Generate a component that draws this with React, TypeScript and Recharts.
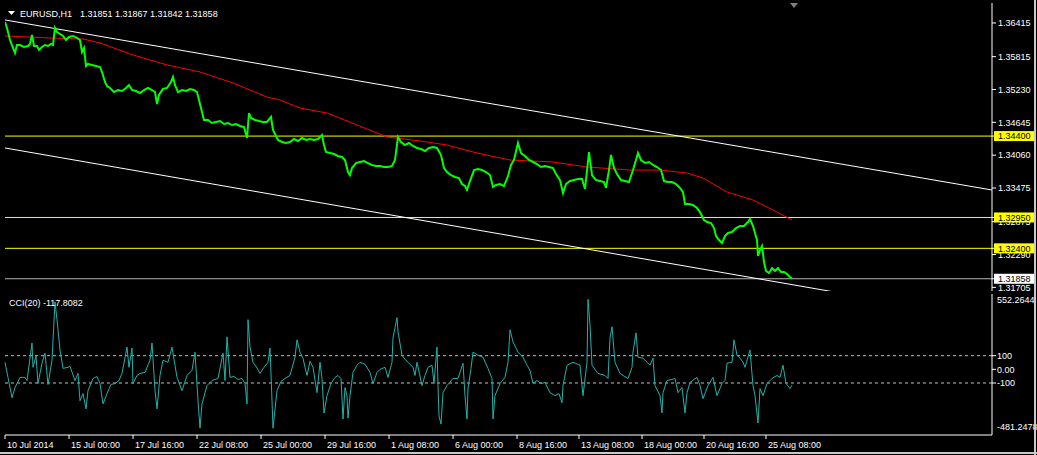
import React from "react";
import { ComposedChart, Line, XAxis, YAxis, ReferenceLine } from "recharts";

// EURUSD H1 terminal screenshot: price panel (close, MA, channel, levels) + CCI(20) panel.
// x is the H1 bar index, one pixel per bar.

const FONT = "'Liberation Sans', Arial, sans-serif";
const BARS = 987;

const eurusdClose: [number, number][] = [
  [0, 1.36433], [2, 1.36326], [5, 1.36112], [8, 1.3597], [10, 1.3588], [12, 1.36023], [15, 1.36023],
  [19, 1.35987], [23, 1.36005], [25, 1.36041], [27, 1.36201], [29, 1.36005], [32, 1.36005], [34, 1.35935],
  [37, 1.35987], [40, 1.36023], [43, 1.36005], [46, 1.36041], [48, 1.36023], [50, 1.36326], [52, 1.36255],
  [55, 1.36219], [58, 1.36184], [61, 1.36112], [64, 1.36166], [68, 1.36184], [72, 1.36148], [75, 1.36112],
  [77, 1.35898], [79, 1.3597], [81, 1.35649], [83, 1.35685], [87, 1.35667], [91, 1.35649], [95, 1.35631],
  [97, 1.35542], [100, 1.35364], [102, 1.35292], [105, 1.35257], [109, 1.35185], [113, 1.35221], [117, 1.35203],
  [121, 1.35257], [124, 1.3531], [127, 1.35221], [131, 1.35203], [135, 1.35168], [139, 1.35221], [143, 1.35257],
  [147, 1.35221], [150, 1.35185], [152, 1.34972], [154, 1.35132], [158, 1.35239], [162, 1.35257], [166, 1.35364],
  [168, 1.35453], [170, 1.3531], [173, 1.35185], [177, 1.35221], [181, 1.35203], [185, 1.35239], [189, 1.35221],
  [192, 1.35185], [194, 1.35043], [196, 1.349], [199, 1.34687], [203, 1.34687], [207, 1.34633], [211, 1.34651],
  [215, 1.34669], [219, 1.34615], [223, 1.34633], [227, 1.34597], [231, 1.34615], [235, 1.3458], [239, 1.34562],
  [242, 1.34366], [244, 1.34811], [246, 1.34722], [250, 1.34687], [254, 1.34669], [258, 1.34651], [262, 1.34651],
  [266, 1.3474], [268, 1.34509], [270, 1.34437], [273, 1.3433], [277, 1.34295], [281, 1.34277], [285, 1.34295],
  [289, 1.34348], [293, 1.34313], [297, 1.34366], [301, 1.3433], [305, 1.34348], [309, 1.3433], [313, 1.34348],
  [317, 1.34419], [319, 1.34241], [321, 1.34116], [325, 1.34098], [329, 1.34081], [333, 1.34045], [337, 1.34027],
  [340, 1.33974], [343, 1.3376], [345, 1.33706], [347, 1.33831], [351, 1.3392], [355, 1.33938], [359, 1.33956],
  [363, 1.3392], [367, 1.33885], [371, 1.33867], [375, 1.33867], [379, 1.33849], [383, 1.33849], [387, 1.33867],
  [390, 1.33974], [393, 1.34384], [396, 1.34295], [400, 1.34241], [404, 1.34277], [408, 1.34223], [412, 1.34188],
  [416, 1.3417], [420, 1.34134], [424, 1.34188], [428, 1.34205], [432, 1.34188], [436, 1.34063], [439, 1.33831],
  [442, 1.3376], [446, 1.33706], [450, 1.33671], [454, 1.33653], [457, 1.33546], [460, 1.3351], [462, 1.33439],
  [465, 1.33599], [469, 1.33795], [473, 1.33813], [477, 1.33795], [481, 1.3376], [485, 1.33706], [488, 1.33493],
  [491, 1.33528], [495, 1.33546], [499, 1.3351], [503, 1.33688], [506, 1.33885], [509, 1.33974], [513, 1.34277],
  [516, 1.34098], [520, 1.34045], [524, 1.33974], [528, 1.33938], [532, 1.33902], [536, 1.33849], [540, 1.33867],
  [544, 1.33849], [548, 1.33831], [551, 1.33724], [555, 1.33617], [558, 1.33386], [561, 1.33546], [565, 1.33599],
  [569, 1.33617], [573, 1.33635], [577, 1.33635], [580, 1.33457], [584, 1.34116], [587, 1.33706], [591, 1.33617],
  [595, 1.33599], [599, 1.33582], [601, 1.33475], [604, 1.33795], [606, 1.34063], [609, 1.33831], [612, 1.33724],
  [616, 1.33617], [620, 1.33599], [624, 1.33582], [628, 1.33795], [631, 1.33974], [633, 1.34098], [636, 1.33974],
  [640, 1.3392], [644, 1.33938], [648, 1.33885], [652, 1.33849], [656, 1.33795], [659, 1.33599], [663, 1.33582],
  [667, 1.33582], [671, 1.33546], [675, 1.33475], [678, 1.33403], [680, 1.3319], [684, 1.3319], [688, 1.33172],
  [692, 1.33118], [695, 1.33047], [699, 1.32905], [702, 1.32869], [706, 1.32851], [709, 1.32762], [711, 1.32619],
  [714, 1.32548], [717, 1.32495], [720, 1.32619], [723, 1.32673], [727, 1.32691], [731, 1.32762], [735, 1.32798],
  [739, 1.32798], [743, 1.32869], [745, 1.32922], [748, 1.32798], [750, 1.32673], [752, 1.32548], [753, 1.32263],
  [755, 1.3237], [757, 1.32441], [759, 1.32156], [761, 1.31996], [764, 1.3196], [767, 1.32049], [770, 1.31996],
  [773, 1.32049], [776, 1.31978], [779, 1.31978], [782, 1.31942], [785, 1.31889], [787, 1.31858],
];

const movingAverage: [number, number][] = [
  [0, 1.36184], [45, 1.36148], [78, 1.3613], [95, 1.36059], [128, 1.35845], [162, 1.35667], [195, 1.35542],
  [228, 1.35346], [262, 1.35096], [275, 1.35043], [295, 1.349], [322, 1.34811], [382, 1.34384], [415, 1.34313],
  [442, 1.34241], [472, 1.34098], [505, 1.33974], [548, 1.33938], [582, 1.33849], [625, 1.33795], [655, 1.33795],
  [682, 1.33742], [698, 1.33653], [722, 1.33403], [748, 1.33261], [768, 1.33083], [787, 1.32905],
];

const channelUpper: [number, number][] = [[0, 1.36469], [987, 1.33439]];
const channelLower: [number, number][] = [[0, 1.34188], [987, 1.31135]];

const levelPrices = [1.344, 1.3295, 1.324];
const lastPrice = 1.31858;
const priceTicks = [1.36415, 1.35815, 1.3523, 1.34645, 1.3406, 1.33475, 1.32875, 1.3229, 1.31705];

const cci20: [number, number][] = [
  [0, 52], [3, -59], [7, -208], [10, -134], [15, -59], [20, -59], [22, -82], [27, 193], [28, 15], [31, 97],
  [33, -104], [37, 45], [40, 119], [43, -111], [47, 67], [50, 495], [52, 364], [55, 141], [58, 7], [63, 15],
  [65, 22], [70, -82], [73, -30], [75, -230], [78, -178], [81, -290], [83, -156], [88, -67], [92, -52], [95, -104],
  [98, -253], [102, -178], [106, -111], [110, -104], [114, -82], [117, -30], [122, 163], [124, 15], [127, 156],
  [128, -104], [132, -45], [135, -30], [140, -22], [145, 67], [147, 193], [150, -156], [152, -290], [155, -45],
  [158, 67], [163, 52], [167, 163], [170, 30], [172, -59], [177, -156], [182, -45], [187, -7], [190, 126],
  [193, -230], [195, -431], [197, -253], [202, -119], [207, -82], [213, -67], [218, 119], [220, -82], [222, 238],
  [225, -59], [229, -52], [233, -74], [237, -67], [240, -104], [242, -253], [243, 364], [245, 163], [248, 52],
  [251, 22], [255, -30], [259, 15], [263, 52], [265, 156], [267, -230], [268, -431], [272, -156], [276, -89],
  [280, -67], [285, -45], [290, 89], [292, 216], [295, 126], [298, 82], [300, 15], [302, -45], [305, 59],
  [308, 15], [312, -171], [315, 52], [317, -67], [319, -320], [322, -193], [326, -104], [330, -59], [333, -45],
  [336, -67], [338, -364], [340, -134], [342, -193], [343, -357], [345, -193], [348, -22], [352, 30], [355, 52],
  [360, 37], [365, -22], [368, -104], [372, -22], [375, 0], [380, 15], [383, -59], [387, 52], [388, 230],
  [390, 305], [392, 379], [393, 275], [397, 104], [400, 74], [403, 52], [408, 15], [410, -45], [412, 52],
  [417, -119], [420, -45], [423, 15], [427, 30], [429, -104], [432, 163], [433, -119], [434, -342], [436, -401],
  [438, -171], [442, -119], [448, -67], [453, -67], [458, 45], [460, -193], [462, -364], [463, -141], [466, 7],
  [468, 126], [473, 104], [478, 89], [483, 7], [487, -67], [488, -364], [490, -193], [495, -104], [500, -59],
  [503, 52], [505, 290], [508, 201], [513, 126], [518, 89], [522, 30], [525, -7], [528, -104], [532, -82],
  [536, -104], [540, -97], [545, -171], [550, -193], [554, -178], [557, -245], [558, -119], [562, 30], [568, 52],
  [575, 30], [578, -193], [582, 52], [583, 513], [585, 327], [587, 30], [593, -30], [600, -45], [603, -67],
  [605, 230], [607, 312], [610, 52], [615, -30], [618, -45], [623, -67], [627, 15], [628, 126], [631, 267],
  [633, 89], [638, 82], [642, 52], [645, 30], [648, 82], [650, -119], [655, -193], [657, -320], [658, -171],
  [662, -82], [667, -74], [670, -67], [673, -171], [677, -134], [680, -320], [682, -171], [685, -97], [689, -74],
  [692, -59], [695, -119], [698, -215], [703, -119], [708, -59], [712, -193], [717, -104], [720, -82], [722, 45],
  [727, 52], [729, 216], [732, 104], [735, 82], [738, 52], [740, 15], [745, 141], [748, -119], [750, -193],
  [753, -394], [755, -141], [758, -193], [762, -104], [767, -67], [772, -45], [775, -59], [778, 30], [781, -104],
  [785, -141], [787, -117.8082],
];

const cciMax = 552.2644;
const cciMin = -481.2478;
const cciTicks = [cciMax, 100, 0, -100, cciMin];

const timeTicks = [0, 64, 128, 192, 256, 320, 384, 448, 512, 574, 637, 699, 761];
const timeLabels = [
  "10 Jul 2014", "15 Jul 00:00", "17 Jul 16:00", "22 Jul 08:00", "25 Jul 00:00", "29 Jul 16:00", "1 Aug 08:00",
  "6 Aug 00:00", "8 Aug 16:00", "13 Aug 08:00", "18 Aug 00:00", "20 Aug 16:00", "25 Aug 08:00",
];

const toRows = (pts: [number, number][]) => pts.map(([bar, v]) => ({ bar, v }));

const txt = { fill: "#fff", fontSize: 9, fontFamily: FONT };

function PriceTick(props: any) {
  const { x, y, payload } = props;
  const v: number = payload.value;
  const bg = levelPrices.includes(v) ? "#ffff00" : v === lastPrice ? "#ffffff" : null;
  return (
    <g>
      {bg && <rect x={x - 4} y={y - 5} width={41} height={10} fill={bg} />}
      <text x={x} y={y} dy={3.3} {...txt} fill={bg ? "#000" : "#fff"}>
        {v.toFixed(5)}
      </text>
    </g>
  );
}

function CciTick(props: any) {
  const { x, y, payload } = props;
  const v: number = payload.value;
  const shift = v === cciMax ? 6 : v === cciMin ? -8 : 0;
  const label = shift ? v.toFixed(4) : v === 0 ? "0.00" : String(v);
  return (
    <g>
      {!shift && <line x1={x - 6} x2={x - 2} y1={y} y2={y} stroke="#fff" />}
      <text x={x - 1} y={y + shift} dy={3.3} {...txt}>
        {label}
      </text>
    </g>
  );
}

function TimeTick(props: any) {
  const { x, y, payload } = props;
  const i = timeTicks.indexOf(payload.value);
  return (
    <g>
      <line x1={x} x2={x} y1={y} y2={y + 4} stroke="#fff" />
      <text x={x + 2} y={y + 13} {...txt}>
        {timeLabels[i]}
      </text>
    </g>
  );
}

const frame = { stroke: "#fff" };

export default function App() {
  return (
    <div style={{ position: "absolute", left: 0, top: 0, width: 1037, height: 455, background: "#000", overflow: "hidden" }}>
      <div style={{ position: "absolute", left: 0, top: 0 }}>
        <ComposedChart width={1037} height={292} margin={{ top: 3, right: 0, bottom: 1, left: 5 }}>
          <XAxis xAxisId="b" type="number" dataKey="bar" domain={[0, BARS]} allowDataOverflow height={0} tick={false} tickLine={false} axisLine={frame} />
          <XAxis xAxisId="t" orientation="top" type="number" domain={[0, BARS]} height={0} tick={false} tickLine={false} axisLine={frame} />
          <YAxis yAxisId="l" orientation="left" type="number" domain={[0, 1]} width={0} tick={false} tickLine={false} axisLine={frame} />
          <YAxis
            yAxisId="p"
            orientation="right"
            type="number"
            domain={[1.3164, 1.36771]}
            allowDataOverflow
            width={45}
            ticks={[...priceTicks, ...levelPrices, lastPrice]}
            interval={0}
            tick={<PriceTick />}
            tickSize={4}
            tickMargin={2}
            tickLine={frame}
            axisLine={frame}
          />
          {levelPrices.map((p) => (
            <ReferenceLine key={p} xAxisId="b" yAxisId="p" y={p} stroke="#ffff00" strokeWidth={1} />
          ))}
          <ReferenceLine xAxisId="b" yAxisId="p" y={lastPrice} stroke="#b4b4b4" strokeWidth={1} />
          <Line xAxisId="b" yAxisId="p" data={toRows(channelUpper)} dataKey="v" stroke="#fff" strokeWidth={1} dot={false} isAnimationActive={false} />
          <Line xAxisId="b" yAxisId="p" data={toRows(channelLower)} dataKey="v" stroke="#fff" strokeWidth={1} dot={false} isAnimationActive={false} />
          <Line xAxisId="b" yAxisId="p" data={toRows(movingAverage)} dataKey="v" stroke="#ff0000" strokeWidth={1} dot={false} isAnimationActive={false} />
          <Line xAxisId="b" yAxisId="p" data={toRows(eurusdClose)} dataKey="v" stroke="#00ff00" strokeWidth={2} dot={false} isAnimationActive={false} />
        </ComposedChart>
      </div>

      <div style={{ position: "absolute", left: 0, top: 291 }}>
        <ComposedChart width={1037} height={164} margin={{ top: 3, right: 0, bottom: 0, left: 5 }}>
          <XAxis
            xAxisId="b"
            type="number"
            dataKey="bar"
            domain={[0, BARS]}
            height={20}
            ticks={timeTicks}
            interval={0}
            tick={<TimeTick />}
            tickSize={0}
            tickMargin={0}
            tickLine={false}
            axisLine={frame}
          />
          <XAxis xAxisId="t" orientation="top" type="number" domain={[0, BARS]} height={0} tick={false} tickLine={false} axisLine={frame} />
          <YAxis yAxisId="l" orientation="left" type="number" domain={[0, 1]} width={0} tick={false} tickLine={false} axisLine={frame} />
          <YAxis
            yAxisId="c"
            orientation="right"
            type="number"
            domain={[cciMin, cciMax]}
            allowDataOverflow
            width={45}
            ticks={cciTicks}
            interval={0}
            tick={<CciTick />}
            tickSize={4}
            tickMargin={2}
            tickLine={false}
            axisLine={frame}
          />
          <ReferenceLine xAxisId="b" yAxisId="c" y={100} stroke="#c0c0c0" strokeDasharray="3 3" />
          <ReferenceLine xAxisId="b" yAxisId="c" y={-100} stroke="#c0c0c0" strokeDasharray="3 3" />
          <Line xAxisId="b" yAxisId="c" data={toRows(cci20)} dataKey="v" stroke="#20b2aa" strokeWidth={1} dot={false} isAnimationActive={false} />
        </ComposedChart>
      </div>

      <svg width={1037} height={455} style={{ position: "absolute", left: 0, top: 0, pointerEvents: "none" }}>
        <polygon points="8,11 15,11 11.5,15" fill="#fff" />
        <text x={20} y={16.5} {...txt}>EURUSD,H1</text>
        <text x={80} y={16.5} {...txt}>1.31851 1.31867 1.31842 1.31858</text>
        <text x={9} y={306} {...txt}>CCI(20) -117.8082</text>
        <polygon points="790,3 798,3 794,8" fill="#808080" />
      </svg>
      <div style={{ position: "absolute", left: 1034, top: 0, width: 2, height: 455, background: "#c8c8c8" }} />
      <div style={{ position: "absolute", left: 0, top: 452, width: 1037, height: 2, background: "#c8c8c8" }} />
    </div>
  );
}
